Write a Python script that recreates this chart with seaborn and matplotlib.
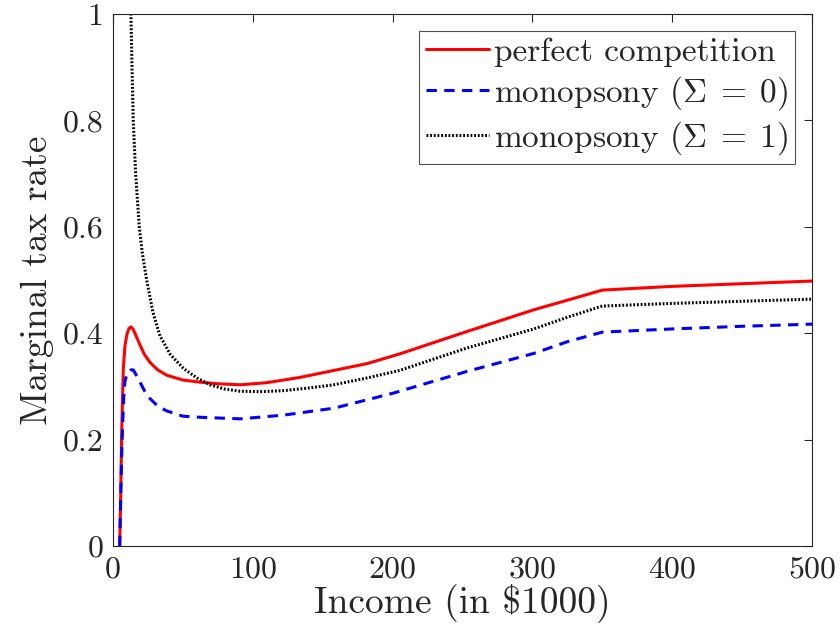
import numpy as np
import pandas as pd
import seaborn as sns
import matplotlib.pyplot as plt
from matplotlib.ticker import FuncFormatter

# ── Data (income in $1000, marginal tax rate)
pc_income = [4.8, 5.5, 6.2, 7.4, 8.6, 10.0, 11.5, 12.9, 14.5, 16.5, 19.3, 22.5, 26.5, 32.0,
             38.4, 50, 62, 75, 91, 110, 134, 158, 182, 205, 253, 301, 325, 350, 400, 450, 500]
pc_rate = [0.0, 0.09, 0.21, 0.335, 0.377, 0.398, 0.409, 0.412, 0.407, 0.395, 0.378, 0.36,
           0.345, 0.331, 0.321, 0.312, 0.308, 0.305, 0.303, 0.307, 0.317, 0.330, 0.343, 0.361,
           0.403, 0.444, 0.462, 0.481, 0.488, 0.493, 0.498]

m0_income = [4.8, 5.5, 6.2, 6.9, 7.7, 8.6, 9.8, 11.0, 12.8, 14.5, 16.5, 19.3, 22.5, 26.5,
             32.0, 38.4, 50, 62, 91, 122, 158, 200, 253, 301, 325, 350, 400, 450, 500]
m0_rate = [0.0, 0.085, 0.17, 0.225, 0.28, 0.31, 0.322, 0.328, 0.331, 0.331, 0.322, 0.308,
           0.292, 0.277, 0.263, 0.254, 0.244, 0.242, 0.239, 0.246, 0.259, 0.287, 0.328,
           0.362, 0.384, 0.402, 0.408, 0.413, 0.417]

m1_income = [12.4, 12.9, 13.6, 14.5, 16.2, 18.8, 21.0, 24.1, 28.5, 33.6, 41.0, 50.3, 60.0,
             69.4, 80.0, 90.8, 105, 122, 140, 158, 182, 205, 253, 301, 325, 350, 400, 450, 500]
m1_rate = [1.03, 0.992, 0.9, 0.8, 0.7, 0.6, 0.55, 0.5, 0.44, 0.395, 0.36, 0.334, 0.316,
           0.303, 0.295, 0.291, 0.290, 0.292, 0.297, 0.303, 0.316, 0.330, 0.372, 0.408,
           0.430, 0.451, 0.456, 0.460, 0.464]

x_ticks = [0, 100, 200, 300, 400, 500]
y_ticks = [0, 0.2, 0.4, 0.6, 0.8, 1.0]

sns.set_theme(style="white")
plt.rcParams["font.family"] = ["cmr10", "DejaVu Serif"]
plt.rcParams["mathtext.fontset"] = "cm"
plt.rcParams["axes.formatter.use_mathtext"] = True

fig = plt.figure(figsize=(8.4, 6.41), dpi=100)
ax = fig.add_axes([0.1345, 0.1482, 0.8322, 0.8300])

sns.lineplot(x=pc_income, y=pc_rate, ax=ax, color="#ff0000", linewidth=2.2,
             label="perfect competition", estimator=None, sort=False)
sns.lineplot(x=m0_income, y=m0_rate, ax=ax, color="#0000ff", linewidth=2.2,
             linestyle=(0, (3.4, 2.4)), label=r"monopsony ($\Sigma\;=\;0$)",
             estimator=None, sort=False)
sns.lineplot(x=m1_income, y=m1_rate, ax=ax, color="black", linewidth=2.2,
             linestyle=(0, (0.6, 0.6)), label=r"monopsony ($\Sigma\;=\;1$)",
             estimator=None, sort=False)

ax.set_xlim(0, 500)
ax.set_ylim(0, 1)
ax.set_xticks(x_ticks)
ax.set_yticks(y_ticks)
ax.yaxis.set_major_formatter(FuncFormatter(lambda v, p: f"{v:g}"))
ax.xaxis.set_major_formatter(FuncFormatter(lambda v, p: f"{v:g}"))
ax.tick_params(direction="in", length=6, width=0.8, color="#262626",
               top=True, right=True, labelsize=23, pad=7)
for s in ax.spines.values():
    s.set_color("#262626")
    s.set_linewidth(0.8)

ax.set_xlabel(r"Income (in \$1000)", fontsize=27, labelpad=0)
ax.set_ylabel("Marginal tax rate", fontsize=27, labelpad=6)

leg = ax.legend(loc="upper right", fontsize=24, frameon=True, fancybox=False,
                borderaxespad=0.5, handlelength=1.9, handletextpad=0.15,
                labelspacing=0.22, borderpad=0.2)
leg.get_frame().set_edgecolor("#262626")
leg.get_frame().set_linewidth(0.8)

plt.savefig("out.png", dpi=100)
